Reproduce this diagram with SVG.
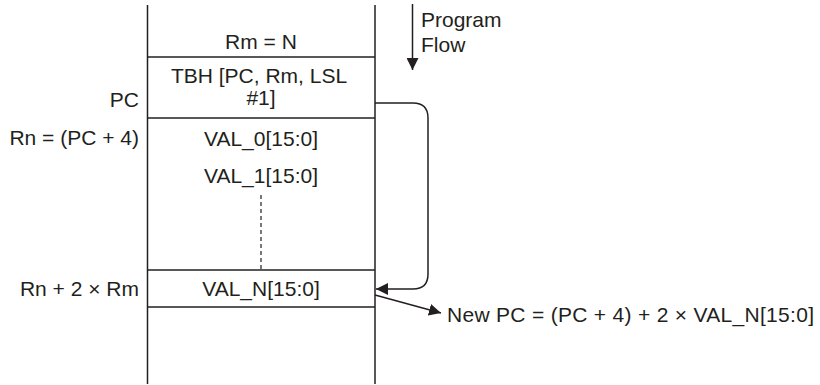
<svg xmlns="http://www.w3.org/2000/svg" width="820" height="385" viewBox="0 0 820 385">
<defs>
<style>
text{font-family:"Liberation Sans",Arial,sans-serif;font-size:21px;fill:#231f20}
.c{text-anchor:middle}
.r{text-anchor:end}
.ln{stroke:#231f20;stroke-width:1.5;fill:none}
</style>
<marker id="ah" viewBox="0 0 12 12" refX="12" refY="6" markerWidth="12" markerHeight="12" markerUnits="userSpaceOnUse" orient="auto">
<path d="M0,0 L12,6 L0,12 Z" fill="#231f20"/>
</marker>
</defs>
<rect width="820" height="385" fill="#fff"/>
<g id="memory">
<line class="ln" x1="147.5" y1="5" x2="147.5" y2="384"/>
<line class="ln" x1="375" y1="5" x2="375" y2="384"/>
<line class="ln" x1="147.5" y1="57" x2="375" y2="57"/>
<line class="ln" x1="147.5" y1="118" x2="375" y2="118"/>
<line class="ln" x1="147.5" y1="270" x2="375" y2="270"/>
<line class="ln" x1="147.5" y1="307" x2="375" y2="307"/>
<line x1="261" y1="195" x2="261" y2="270" stroke="#231f20" stroke-width="1.2" stroke-dasharray="4,3"/>
</g>
<g id="cell-rm"><text class="c" x="261" y="49">Rm = N</text></g>
<g id="cell-tbh"><text class="c" x="259" y="83">TBH [PC, Rm, LSL</text><text class="c" x="261" y="105">#1]</text></g>
<g id="cell-val0"><text class="c" x="261" y="146">VAL_0[15:0]</text></g>
<g id="cell-val1"><text class="c" x="261" y="183">VAL_1[15:0]</text></g>
<g id="cell-valn"><text class="c" x="261" y="296">VAL_N[15:0]</text></g>
<g id="labels">
<text class="r" x="139" y="107">PC</text>
<text class="r" x="139" y="145">Rn = (PC + 4)</text>
<text class="r" x="139" y="296">Rn + 2 × Rm</text>
</g>
<g id="flow">
<line class="ln" x1="412.5" y1="4" x2="412.5" y2="70" marker-end="url(#ah)"/>
<text x="421" y="27">Program</text>
<text x="421" y="52">Flow</text>
</g>
<g id="connectors">
<path class="ln" d="M375,103 H413 Q428,103 428,118 V274 Q428,289 413,289 H376" marker-end="url(#ah)"/>
<line class="ln" x1="375" y1="295" x2="441" y2="313" marker-end="url(#ah)"/>
</g>
<g id="result"><text x="447" y="322" textLength="367" lengthAdjust="spacing">New PC = (PC + 4) + 2 × VAL_N[15:0]</text></g>
</svg>
